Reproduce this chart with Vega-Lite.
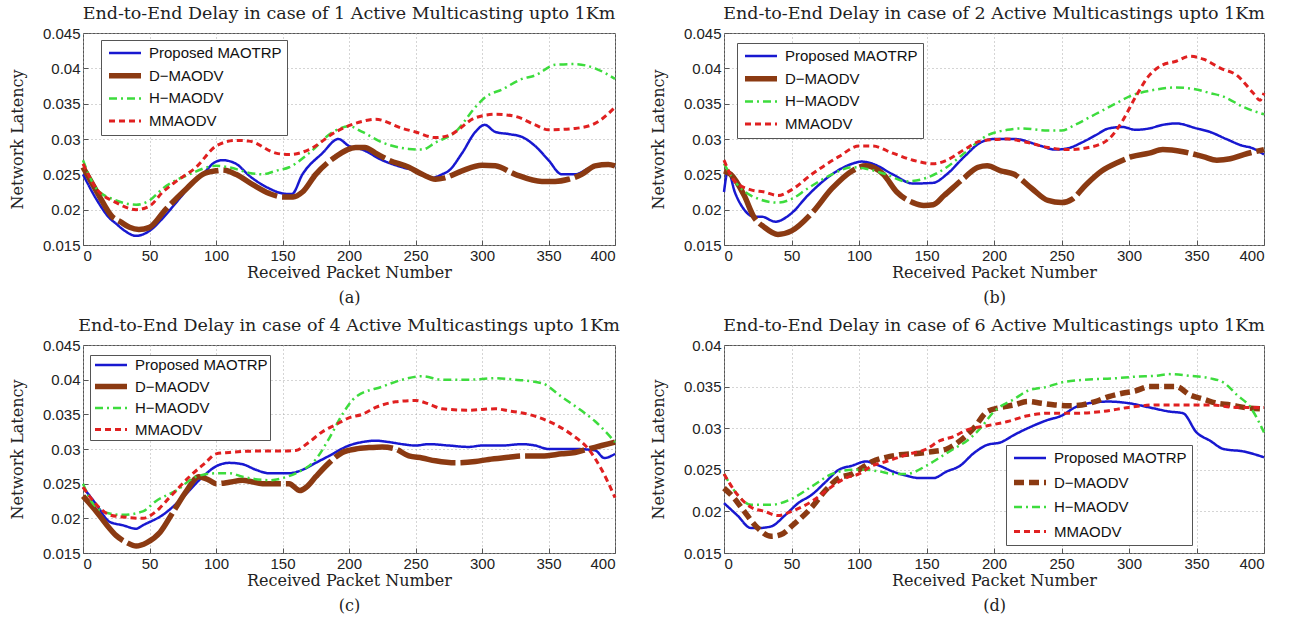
{
  "$schema": "https://vega.github.io/schema/vega-lite/v6.json",
  "padding": {"left": 8, "top": 4, "right": 4, "bottom": 0},
  "background": "white",
  "datasets": {
    "a": [
      {"s":"Proposed MAOTRP","x":0,"y":0.025},{"s":"Proposed MAOTRP","x":10,"y":0.0215},{"s":"Proposed MAOTRP","x":20,"y":0.0188},{"s":"Proposed MAOTRP","x":25,"y":0.018},{"s":"Proposed MAOTRP","x":30,"y":0.0172},{"s":"Proposed MAOTRP","x":40,"y":0.0163},{"s":"Proposed MAOTRP","x":50,"y":0.017},{"s":"Proposed MAOTRP","x":60,"y":0.0188},{"s":"Proposed MAOTRP","x":70,"y":0.021},{"s":"Proposed MAOTRP","x":80,"y":0.0232},{"s":"Proposed MAOTRP","x":90,"y":0.025},{"s":"Proposed MAOTRP","x":100,"y":0.0268},{"s":"Proposed MAOTRP","x":105,"y":0.027},{"s":"Proposed MAOTRP","x":115,"y":0.0265},{"s":"Proposed MAOTRP","x":125,"y":0.0248},{"s":"Proposed MAOTRP","x":140,"y":0.023},{"s":"Proposed MAOTRP","x":150,"y":0.0223},{"s":"Proposed MAOTRP","x":157,"y":0.0222},{"s":"Proposed MAOTRP","x":165,"y":0.025},{"s":"Proposed MAOTRP","x":180,"y":0.028},{"s":"Proposed MAOTRP","x":192,"y":0.03},{"s":"Proposed MAOTRP","x":200,"y":0.029},{"s":"Proposed MAOTRP","x":210,"y":0.0285},{"s":"Proposed MAOTRP","x":225,"y":0.027},{"s":"Proposed MAOTRP","x":240,"y":0.026},{"s":"Proposed MAOTRP","x":250,"y":0.0255},{"s":"Proposed MAOTRP","x":262,"y":0.0245},{"s":"Proposed MAOTRP","x":270,"y":0.025},{"s":"Proposed MAOTRP","x":275,"y":0.0255},{"s":"Proposed MAOTRP","x":285,"y":0.028},{"s":"Proposed MAOTRP","x":295,"y":0.031},{"s":"Proposed MAOTRP","x":302,"y":0.032},{"s":"Proposed MAOTRP","x":310,"y":0.031},{"s":"Proposed MAOTRP","x":320,"y":0.0307},{"s":"Proposed MAOTRP","x":330,"y":0.0303},{"s":"Proposed MAOTRP","x":340,"y":0.029},{"s":"Proposed MAOTRP","x":350,"y":0.027},{"s":"Proposed MAOTRP","x":360,"y":0.025},{"s":"Proposed MAOTRP","x":370,"y":0.025},{"s":"Proposed MAOTRP","x":380,"y":0.0258},{"s":"Proposed MAOTRP","x":390,"y":0.0262},{"s":"Proposed MAOTRP","x":400,"y":0.0262},
      {"s":"D−MAODV","x":0,"y":0.026},{"s":"D−MAODV","x":6,"y":0.024},{"s":"D−MAODV","x":12,"y":0.022},{"s":"D−MAODV","x":22,"y":0.019},{"s":"D−MAODV","x":28,"y":0.0183},{"s":"D−MAODV","x":35,"y":0.0175},{"s":"D−MAODV","x":42,"y":0.0172},{"s":"D−MAODV","x":50,"y":0.0175},{"s":"D−MAODV","x":62,"y":0.02},{"s":"D−MAODV","x":78,"y":0.023},{"s":"D−MAODV","x":90,"y":0.025},{"s":"D−MAODV","x":100,"y":0.0255},{"s":"D−MAODV","x":105,"y":0.0256},{"s":"D−MAODV","x":115,"y":0.025},{"s":"D−MAODV","x":128,"y":0.0235},{"s":"D−MAODV","x":140,"y":0.0223},{"s":"D−MAODV","x":150,"y":0.0218},{"s":"D−MAODV","x":158,"y":0.0218},{"s":"D−MAODV","x":165,"y":0.0225},{"s":"D−MAODV","x":175,"y":0.025},{"s":"D−MAODV","x":190,"y":0.0275},{"s":"D−MAODV","x":205,"y":0.0288},{"s":"D−MAODV","x":212,"y":0.0288},{"s":"D−MAODV","x":220,"y":0.028},{"s":"D−MAODV","x":230,"y":0.027},{"s":"D−MAODV","x":245,"y":0.026},{"s":"D−MAODV","x":255,"y":0.025},{"s":"D−MAODV","x":265,"y":0.0243},{"s":"D−MAODV","x":272,"y":0.0245},{"s":"D−MAODV","x":285,"y":0.0255},{"s":"D−MAODV","x":300,"y":0.0263},{"s":"D−MAODV","x":310,"y":0.0262},{"s":"D−MAODV","x":325,"y":0.025},{"s":"D−MAODV","x":345,"y":0.024},{"s":"D−MAODV","x":355,"y":0.024},{"s":"D−MAODV","x":365,"y":0.0243},{"s":"D−MAODV","x":375,"y":0.025},{"s":"D−MAODV","x":385,"y":0.0262},{"s":"D−MAODV","x":395,"y":0.0264},{"s":"D−MAODV","x":400,"y":0.0262},
      {"s":"H−MAODV","x":0,"y":0.027},{"s":"H−MAODV","x":10,"y":0.023},{"s":"H−MAODV","x":25,"y":0.0213},{"s":"H−MAODV","x":40,"y":0.0207},{"s":"H−MAODV","x":50,"y":0.0213},{"s":"H−MAODV","x":60,"y":0.023},{"s":"H−MAODV","x":80,"y":0.025},{"s":"H−MAODV","x":100,"y":0.0262},{"s":"H−MAODV","x":110,"y":0.026},{"s":"H−MAODV","x":125,"y":0.0252},{"s":"H−MAODV","x":135,"y":0.025},{"s":"H−MAODV","x":145,"y":0.0255},{"s":"H−MAODV","x":155,"y":0.026},{"s":"H−MAODV","x":170,"y":0.028},{"s":"H−MAODV","x":188,"y":0.031},{"s":"H−MAODV","x":200,"y":0.0318},{"s":"H−MAODV","x":210,"y":0.031},{"s":"H−MAODV","x":225,"y":0.0295},{"s":"H−MAODV","x":245,"y":0.0286},{"s":"H−MAODV","x":255,"y":0.0285},{"s":"H−MAODV","x":265,"y":0.0295},{"s":"H−MAODV","x":280,"y":0.031},{"s":"H−MAODV","x":295,"y":0.0345},{"s":"H−MAODV","x":303,"y":0.036},{"s":"H−MAODV","x":315,"y":0.037},{"s":"H−MAODV","x":330,"y":0.0385},{"s":"H−MAODV","x":340,"y":0.039},{"s":"H−MAODV","x":355,"y":0.0405},{"s":"H−MAODV","x":370,"y":0.0406},{"s":"H−MAODV","x":385,"y":0.04},{"s":"H−MAODV","x":400,"y":0.0385},
      {"s":"MMAODV","x":0,"y":0.0265},{"s":"MMAODV","x":10,"y":0.023},{"s":"MMAODV","x":25,"y":0.021},{"s":"MMAODV","x":40,"y":0.02},{"s":"MMAODV","x":50,"y":0.0205},{"s":"MMAODV","x":60,"y":0.0225},{"s":"MMAODV","x":70,"y":0.024},{"s":"MMAODV","x":85,"y":0.026},{"s":"MMAODV","x":100,"y":0.029},{"s":"MMAODV","x":115,"y":0.0298},{"s":"MMAODV","x":125,"y":0.0297},{"s":"MMAODV","x":145,"y":0.028},{"s":"MMAODV","x":155,"y":0.0278},{"s":"MMAODV","x":170,"y":0.0285},{"s":"MMAODV","x":190,"y":0.031},{"s":"MMAODV","x":210,"y":0.0325},{"s":"MMAODV","x":220,"y":0.0328},{"s":"MMAODV","x":240,"y":0.0315},{"s":"MMAODV","x":250,"y":0.031},{"s":"MMAODV","x":265,"y":0.0302},{"s":"MMAODV","x":275,"y":0.0305},{"s":"MMAODV","x":295,"y":0.033},{"s":"MMAODV","x":310,"y":0.0335},{"s":"MMAODV","x":325,"y":0.0332},{"s":"MMAODV","x":340,"y":0.032},{"s":"MMAODV","x":350,"y":0.0313},{"s":"MMAODV","x":370,"y":0.0315},{"s":"MMAODV","x":385,"y":0.0322},{"s":"MMAODV","x":400,"y":0.0345}
    ],
    "b": [
      {"s":"Proposed MAOTRP","x":0,"y":0.0225},{"s":"Proposed MAOTRP","x":3,"y":0.0255},{"s":"Proposed MAOTRP","x":8,"y":0.0225},{"s":"Proposed MAOTRP","x":15,"y":0.02},{"s":"Proposed MAOTRP","x":22,"y":0.019},{"s":"Proposed MAOTRP","x":28,"y":0.019},{"s":"Proposed MAOTRP","x":38,"y":0.0183},{"s":"Proposed MAOTRP","x":50,"y":0.0195},{"s":"Proposed MAOTRP","x":62,"y":0.022},{"s":"Proposed MAOTRP","x":80,"y":0.025},{"s":"Proposed MAOTRP","x":95,"y":0.0265},{"s":"Proposed MAOTRP","x":102,"y":0.0268},{"s":"Proposed MAOTRP","x":110,"y":0.0265},{"s":"Proposed MAOTRP","x":125,"y":0.025},{"s":"Proposed MAOTRP","x":140,"y":0.0237},{"s":"Proposed MAOTRP","x":155,"y":0.0238},{"s":"Proposed MAOTRP","x":165,"y":0.025},{"s":"Proposed MAOTRP","x":178,"y":0.0275},{"s":"Proposed MAOTRP","x":190,"y":0.0295},{"s":"Proposed MAOTRP","x":200,"y":0.03},{"s":"Proposed MAOTRP","x":215,"y":0.03},{"s":"Proposed MAOTRP","x":235,"y":0.029},{"s":"Proposed MAOTRP","x":245,"y":0.0285},{"s":"Proposed MAOTRP","x":255,"y":0.0287},{"s":"Proposed MAOTRP","x":265,"y":0.0295},{"s":"Proposed MAOTRP","x":275,"y":0.0305},{"s":"Proposed MAOTRP","x":285,"y":0.0315},{"s":"Proposed MAOTRP","x":295,"y":0.0317},{"s":"Proposed MAOTRP","x":305,"y":0.0313},{"s":"Proposed MAOTRP","x":315,"y":0.0315},{"s":"Proposed MAOTRP","x":325,"y":0.032},{"s":"Proposed MAOTRP","x":335,"y":0.0322},{"s":"Proposed MAOTRP","x":350,"y":0.0315},{"s":"Proposed MAOTRP","x":360,"y":0.031},{"s":"Proposed MAOTRP","x":372,"y":0.03},{"s":"Proposed MAOTRP","x":385,"y":0.029},{"s":"Proposed MAOTRP","x":390,"y":0.0288},{"s":"Proposed MAOTRP","x":400,"y":0.0278},
      {"s":"D−MAODV","x":0,"y":0.0255},{"s":"D−MAODV","x":5,"y":0.025},{"s":"D−MAODV","x":15,"y":0.022},{"s":"D−MAODV","x":22,"y":0.019},{"s":"D−MAODV","x":30,"y":0.0175},{"s":"D−MAODV","x":40,"y":0.0165},{"s":"D−MAODV","x":50,"y":0.017},{"s":"D−MAODV","x":65,"y":0.0195},{"s":"D−MAODV","x":80,"y":0.023},{"s":"D−MAODV","x":95,"y":0.0255},{"s":"D−MAODV","x":105,"y":0.0262},{"s":"D−MAODV","x":118,"y":0.025},{"s":"D−MAODV","x":128,"y":0.0225},{"s":"D−MAODV","x":140,"y":0.021},{"s":"D−MAODV","x":148,"y":0.0206},{"s":"D−MAODV","x":155,"y":0.0207},{"s":"D−MAODV","x":163,"y":0.022},{"s":"D−MAODV","x":178,"y":0.0245},{"s":"D−MAODV","x":188,"y":0.026},{"s":"D−MAODV","x":195,"y":0.0262},{"s":"D−MAODV","x":205,"y":0.0255},{"s":"D−MAODV","x":215,"y":0.025},{"s":"D−MAODV","x":228,"y":0.023},{"s":"D−MAODV","x":240,"y":0.0213},{"s":"D−MAODV","x":250,"y":0.021},{"s":"D−MAODV","x":258,"y":0.0215},{"s":"D−MAODV","x":268,"y":0.0235},{"s":"D−MAODV","x":280,"y":0.0255},{"s":"D−MAODV","x":292,"y":0.0267},{"s":"D−MAODV","x":302,"y":0.0275},{"s":"D−MAODV","x":315,"y":0.028},{"s":"D−MAODV","x":325,"y":0.0285},{"s":"D−MAODV","x":340,"y":0.0282},{"s":"D−MAODV","x":355,"y":0.0275},{"s":"D−MAODV","x":365,"y":0.027},{"s":"D−MAODV","x":375,"y":0.0272},{"s":"D−MAODV","x":385,"y":0.0278},{"s":"D−MAODV","x":400,"y":0.0285},
      {"s":"H−MAODV","x":0,"y":0.0265},{"s":"H−MAODV","x":8,"y":0.024},{"s":"H−MAODV","x":20,"y":0.022},{"s":"H−MAODV","x":40,"y":0.021},{"s":"H−MAODV","x":50,"y":0.0215},{"s":"H−MAODV","x":62,"y":0.023},{"s":"H−MAODV","x":80,"y":0.025},{"s":"H−MAODV","x":95,"y":0.026},{"s":"H−MAODV","x":105,"y":0.0258},{"s":"H−MAODV","x":120,"y":0.025},{"s":"H−MAODV","x":135,"y":0.024},{"s":"H−MAODV","x":150,"y":0.0245},{"s":"H−MAODV","x":165,"y":0.026},{"s":"H−MAODV","x":178,"y":0.028},{"s":"H−MAODV","x":195,"y":0.0305},{"s":"H−MAODV","x":210,"y":0.0313},{"s":"H−MAODV","x":220,"y":0.0315},{"s":"H−MAODV","x":240,"y":0.0312},{"s":"H−MAODV","x":250,"y":0.0312},{"s":"H−MAODV","x":260,"y":0.032},{"s":"H−MAODV","x":275,"y":0.0335},{"s":"H−MAODV","x":290,"y":0.035},{"s":"H−MAODV","x":300,"y":0.036},{"s":"H−MAODV","x":320,"y":0.037},{"s":"H−MAODV","x":335,"y":0.0373},{"s":"H−MAODV","x":350,"y":0.037},{"s":"H−MAODV","x":360,"y":0.0365},{"s":"H−MAODV","x":370,"y":0.036},{"s":"H−MAODV","x":385,"y":0.0345},{"s":"H−MAODV","x":400,"y":0.0335},
      {"s":"MMAODV","x":0,"y":0.027},{"s":"MMAODV","x":8,"y":0.024},{"s":"MMAODV","x":20,"y":0.0228},{"s":"MMAODV","x":30,"y":0.0225},{"s":"MMAODV","x":40,"y":0.022},{"s":"MMAODV","x":50,"y":0.0228},{"s":"MMAODV","x":65,"y":0.025},{"s":"MMAODV","x":85,"y":0.0275},{"s":"MMAODV","x":100,"y":0.029},{"s":"MMAODV","x":110,"y":0.029},{"s":"MMAODV","x":125,"y":0.028},{"s":"MMAODV","x":140,"y":0.027},{"s":"MMAODV","x":155,"y":0.0265},{"s":"MMAODV","x":165,"y":0.027},{"s":"MMAODV","x":178,"y":0.0285},{"s":"MMAODV","x":190,"y":0.0297},{"s":"MMAODV","x":210,"y":0.03},{"s":"MMAODV","x":225,"y":0.0295},{"s":"MMAODV","x":240,"y":0.0288},{"s":"MMAODV","x":255,"y":0.0285},{"s":"MMAODV","x":270,"y":0.0288},{"s":"MMAODV","x":285,"y":0.03},{"s":"MMAODV","x":295,"y":0.0325},{"s":"MMAODV","x":305,"y":0.036},{"s":"MMAODV","x":315,"y":0.039},{"s":"MMAODV","x":325,"y":0.0405},{"s":"MMAODV","x":335,"y":0.041},{"s":"MMAODV","x":345,"y":0.0417},{"s":"MMAODV","x":355,"y":0.0413},{"s":"MMAODV","x":368,"y":0.04},{"s":"MMAODV","x":380,"y":0.039},{"s":"MMAODV","x":392,"y":0.0365},{"s":"MMAODV","x":397,"y":0.0355},{"s":"MMAODV","x":400,"y":0.0365}
    ],
    "c": [
      {"s":"Proposed MAOTRP","x":0,"y":0.0245},{"s":"Proposed MAOTRP","x":10,"y":0.022},{"s":"Proposed MAOTRP","x":20,"y":0.0195},{"s":"Proposed MAOTRP","x":30,"y":0.019},{"s":"Proposed MAOTRP","x":40,"y":0.0185},{"s":"Proposed MAOTRP","x":45,"y":0.019},{"s":"Proposed MAOTRP","x":60,"y":0.0205},{"s":"Proposed MAOTRP","x":75,"y":0.023},{"s":"Proposed MAOTRP","x":90,"y":0.026},{"s":"Proposed MAOTRP","x":100,"y":0.0275},{"s":"Proposed MAOTRP","x":110,"y":0.028},{"s":"Proposed MAOTRP","x":120,"y":0.0278},{"s":"Proposed MAOTRP","x":130,"y":0.027},{"s":"Proposed MAOTRP","x":140,"y":0.0265},{"s":"Proposed MAOTRP","x":155,"y":0.0265},{"s":"Proposed MAOTRP","x":165,"y":0.027},{"s":"Proposed MAOTRP","x":175,"y":0.028},{"s":"Proposed MAOTRP","x":185,"y":0.029},{"s":"Proposed MAOTRP","x":200,"y":0.0305},{"s":"Proposed MAOTRP","x":210,"y":0.031},{"s":"Proposed MAOTRP","x":220,"y":0.0312},{"s":"Proposed MAOTRP","x":230,"y":0.031},{"s":"Proposed MAOTRP","x":240,"y":0.0307},{"s":"Proposed MAOTRP","x":250,"y":0.0305},{"s":"Proposed MAOTRP","x":260,"y":0.0307},{"s":"Proposed MAOTRP","x":275,"y":0.0305},{"s":"Proposed MAOTRP","x":290,"y":0.0303},{"s":"Proposed MAOTRP","x":300,"y":0.0305},{"s":"Proposed MAOTRP","x":315,"y":0.0305},{"s":"Proposed MAOTRP","x":330,"y":0.0307},{"s":"Proposed MAOTRP","x":340,"y":0.0305},{"s":"Proposed MAOTRP","x":350,"y":0.03},{"s":"Proposed MAOTRP","x":370,"y":0.03},{"s":"Proposed MAOTRP","x":385,"y":0.0298},{"s":"Proposed MAOTRP","x":392,"y":0.0287},{"s":"Proposed MAOTRP","x":400,"y":0.0293},
      {"s":"D−MAODV","x":0,"y":0.0232},{"s":"D−MAODV","x":10,"y":0.021},{"s":"D−MAODV","x":18,"y":0.019},{"s":"D−MAODV","x":25,"y":0.0175},{"s":"D−MAODV","x":33,"y":0.0165},{"s":"D−MAODV","x":40,"y":0.016},{"s":"D−MAODV","x":48,"y":0.0165},{"s":"D−MAODV","x":58,"y":0.018},{"s":"D−MAODV","x":68,"y":0.021},{"s":"D−MAODV","x":78,"y":0.024},{"s":"D−MAODV","x":87,"y":0.026},{"s":"D−MAODV","x":95,"y":0.0255},{"s":"D−MAODV","x":100,"y":0.025},{"s":"D−MAODV","x":110,"y":0.0252},{"s":"D−MAODV","x":120,"y":0.0255},{"s":"D−MAODV","x":135,"y":0.025},{"s":"D−MAODV","x":150,"y":0.025},{"s":"D−MAODV","x":155,"y":0.025},{"s":"D−MAODV","x":163,"y":0.024},{"s":"D−MAODV","x":168,"y":0.0245},{"s":"D−MAODV","x":175,"y":0.026},{"s":"D−MAODV","x":185,"y":0.028},{"s":"D−MAODV","x":195,"y":0.0295},{"s":"D−MAODV","x":205,"y":0.03},{"s":"D−MAODV","x":215,"y":0.0302},{"s":"D−MAODV","x":225,"y":0.0303},{"s":"D−MAODV","x":235,"y":0.03},{"s":"D−MAODV","x":245,"y":0.029},{"s":"D−MAODV","x":255,"y":0.0287},{"s":"D−MAODV","x":265,"y":0.0283},{"s":"D−MAODV","x":280,"y":0.028},{"s":"D−MAODV","x":295,"y":0.0282},{"s":"D−MAODV","x":305,"y":0.0285},{"s":"D−MAODV","x":320,"y":0.0288},{"s":"D−MAODV","x":330,"y":0.029},{"s":"D−MAODV","x":345,"y":0.029},{"s":"D−MAODV","x":360,"y":0.0293},{"s":"D−MAODV","x":370,"y":0.0295},{"s":"D−MAODV","x":380,"y":0.03},{"s":"D−MAODV","x":390,"y":0.0305},{"s":"D−MAODV","x":400,"y":0.031},
      {"s":"H−MAODV","x":0,"y":0.025},{"s":"H−MAODV","x":8,"y":0.022},{"s":"H−MAODV","x":20,"y":0.0207},{"s":"H−MAODV","x":30,"y":0.0205},{"s":"H−MAODV","x":45,"y":0.021},{"s":"H−MAODV","x":55,"y":0.0225},{"s":"H−MAODV","x":70,"y":0.024},{"s":"H−MAODV","x":85,"y":0.026},{"s":"H−MAODV","x":100,"y":0.0265},{"s":"H−MAODV","x":110,"y":0.0265},{"s":"H−MAODV","x":120,"y":0.026},{"s":"H−MAODV","x":140,"y":0.0255},{"s":"H−MAODV","x":150,"y":0.0258},{"s":"H−MAODV","x":160,"y":0.0265},{"s":"H−MAODV","x":175,"y":0.0285},{"s":"H−MAODV","x":185,"y":0.0315},{"s":"H−MAODV","x":195,"y":0.035},{"s":"H−MAODV","x":205,"y":0.0375},{"s":"H−MAODV","x":225,"y":0.039},{"s":"H−MAODV","x":240,"y":0.04},{"s":"H−MAODV","x":255,"y":0.0405},{"s":"H−MAODV","x":270,"y":0.04},{"s":"H−MAODV","x":290,"y":0.04},{"s":"H−MAODV","x":310,"y":0.0402},{"s":"H−MAODV","x":325,"y":0.04},{"s":"H−MAODV","x":345,"y":0.0395},{"s":"H−MAODV","x":360,"y":0.0375},{"s":"H−MAODV","x":375,"y":0.0355},{"s":"H−MAODV","x":385,"y":0.034},{"s":"H−MAODV","x":400,"y":0.031},
      {"s":"MMAODV","x":0,"y":0.0245},{"s":"MMAODV","x":10,"y":0.022},{"s":"MMAODV","x":20,"y":0.0205},{"s":"MMAODV","x":30,"y":0.0202},{"s":"MMAODV","x":45,"y":0.02},{"s":"MMAODV","x":55,"y":0.021},{"s":"MMAODV","x":65,"y":0.023},{"s":"MMAODV","x":80,"y":0.026},{"s":"MMAODV","x":92,"y":0.028},{"s":"MMAODV","x":100,"y":0.0293},{"s":"MMAODV","x":110,"y":0.0295},{"s":"MMAODV","x":130,"y":0.0297},{"s":"MMAODV","x":150,"y":0.0297},{"s":"MMAODV","x":160,"y":0.0298},{"s":"MMAODV","x":170,"y":0.031},{"s":"MMAODV","x":180,"y":0.0325},{"s":"MMAODV","x":190,"y":0.0335},{"s":"MMAODV","x":200,"y":0.0345},{"s":"MMAODV","x":210,"y":0.035},{"s":"MMAODV","x":220,"y":0.036},{"s":"MMAODV","x":235,"y":0.0368},{"s":"MMAODV","x":250,"y":0.037},{"s":"MMAODV","x":260,"y":0.0365},{"s":"MMAODV","x":270,"y":0.0358},{"s":"MMAODV","x":290,"y":0.0356},{"s":"MMAODV","x":310,"y":0.0358},{"s":"MMAODV","x":320,"y":0.0355},{"s":"MMAODV","x":335,"y":0.035},{"s":"MMAODV","x":350,"y":0.034},{"s":"MMAODV","x":368,"y":0.032},{"s":"MMAODV","x":380,"y":0.03},{"s":"MMAODV","x":390,"y":0.027},{"s":"MMAODV","x":400,"y":0.023}
    ],
    "d": [
      {"s":"Proposed MAOTRP","x":0,"y":0.021},{"s":"Proposed MAOTRP","x":10,"y":0.0195},{"s":"Proposed MAOTRP","x":20,"y":0.018},{"s":"Proposed MAOTRP","x":25,"y":0.018},{"s":"Proposed MAOTRP","x":35,"y":0.0182},{"s":"Proposed MAOTRP","x":45,"y":0.0195},{"s":"Proposed MAOTRP","x":55,"y":0.021},{"s":"Proposed MAOTRP","x":65,"y":0.022},{"s":"Proposed MAOTRP","x":75,"y":0.0235},{"s":"Proposed MAOTRP","x":85,"y":0.025},{"s":"Proposed MAOTRP","x":95,"y":0.0255},{"s":"Proposed MAOTRP","x":105,"y":0.026},{"s":"Proposed MAOTRP","x":115,"y":0.0255},{"s":"Proposed MAOTRP","x":125,"y":0.0248},{"s":"Proposed MAOTRP","x":135,"y":0.0243},{"s":"Proposed MAOTRP","x":145,"y":0.024},{"s":"Proposed MAOTRP","x":155,"y":0.024},{"s":"Proposed MAOTRP","x":165,"y":0.0248},{"s":"Proposed MAOTRP","x":175,"y":0.0255},{"s":"Proposed MAOTRP","x":185,"y":0.027},{"s":"Proposed MAOTRP","x":195,"y":0.028},{"s":"Proposed MAOTRP","x":205,"y":0.0283},{"s":"Proposed MAOTRP","x":215,"y":0.0292},{"s":"Proposed MAOTRP","x":225,"y":0.03},{"s":"Proposed MAOTRP","x":240,"y":0.031},{"s":"Proposed MAOTRP","x":250,"y":0.0315},{"s":"Proposed MAOTRP","x":260,"y":0.0325},{"s":"Proposed MAOTRP","x":270,"y":0.033},{"s":"Proposed MAOTRP","x":285,"y":0.0332},{"s":"Proposed MAOTRP","x":300,"y":0.033},{"s":"Proposed MAOTRP","x":315,"y":0.0325},{"s":"Proposed MAOTRP","x":330,"y":0.032},{"s":"Proposed MAOTRP","x":340,"y":0.0318},{"s":"Proposed MAOTRP","x":350,"y":0.0295},{"s":"Proposed MAOTRP","x":360,"y":0.0285},{"s":"Proposed MAOTRP","x":370,"y":0.0275},{"s":"Proposed MAOTRP","x":385,"y":0.0272},{"s":"Proposed MAOTRP","x":400,"y":0.0265},
      {"s":"D−MAODV","x":0,"y":0.0228},{"s":"D−MAODV","x":8,"y":0.0215},{"s":"D−MAODV","x":15,"y":0.02},{"s":"D−MAODV","x":25,"y":0.018},{"s":"D−MAODV","x":35,"y":0.017},{"s":"D−MAODV","x":42,"y":0.0172},{"s":"D−MAODV","x":52,"y":0.0185},{"s":"D−MAODV","x":65,"y":0.0205},{"s":"D−MAODV","x":75,"y":0.0225},{"s":"D−MAODV","x":85,"y":0.024},{"s":"D−MAODV","x":95,"y":0.0245},{"s":"D−MAODV","x":100,"y":0.025},{"s":"D−MAODV","x":110,"y":0.026},{"s":"D−MAODV","x":120,"y":0.0265},{"s":"D−MAODV","x":130,"y":0.0268},{"s":"D−MAODV","x":145,"y":0.027},{"s":"D−MAODV","x":155,"y":0.0272},{"s":"D−MAODV","x":165,"y":0.0275},{"s":"D−MAODV","x":175,"y":0.0285},{"s":"D−MAODV","x":185,"y":0.03},{"s":"D−MAODV","x":195,"y":0.032},{"s":"D−MAODV","x":205,"y":0.0325},{"s":"D−MAODV","x":215,"y":0.0328},{"s":"D−MAODV","x":225,"y":0.0332},{"s":"D−MAODV","x":235,"y":0.033},{"s":"D−MAODV","x":245,"y":0.0328},{"s":"D−MAODV","x":255,"y":0.0327},{"s":"D−MAODV","x":265,"y":0.0328},{"s":"D−MAODV","x":275,"y":0.0332},{"s":"D−MAODV","x":285,"y":0.0338},{"s":"D−MAODV","x":295,"y":0.0342},{"s":"D−MAODV","x":305,"y":0.0345},{"s":"D−MAODV","x":315,"y":0.035},{"s":"D−MAODV","x":325,"y":0.035},{"s":"D−MAODV","x":335,"y":0.035},{"s":"D−MAODV","x":345,"y":0.034},{"s":"D−MAODV","x":355,"y":0.0335},{"s":"D−MAODV","x":365,"y":0.033},{"s":"D−MAODV","x":375,"y":0.0328},{"s":"D−MAODV","x":385,"y":0.0325},{"s":"D−MAODV","x":400,"y":0.0323},
      {"s":"H−MAODV","x":0,"y":0.0245},{"s":"H−MAODV","x":10,"y":0.022},{"s":"H−MAODV","x":20,"y":0.0208},{"s":"H−MAODV","x":35,"y":0.0208},{"s":"H−MAODV","x":50,"y":0.0215},{"s":"H−MAODV","x":65,"y":0.023},{"s":"H−MAODV","x":80,"y":0.0245},{"s":"H−MAODV","x":95,"y":0.025},{"s":"H−MAODV","x":105,"y":0.025},{"s":"H−MAODV","x":115,"y":0.0248},{"s":"H−MAODV","x":125,"y":0.0245},{"s":"H−MAODV","x":135,"y":0.0245},{"s":"H−MAODV","x":150,"y":0.0255},{"s":"H−MAODV","x":160,"y":0.0265},{"s":"H−MAODV","x":170,"y":0.0275},{"s":"H−MAODV","x":180,"y":0.0285},{"s":"H−MAODV","x":190,"y":0.03},{"s":"H−MAODV","x":200,"y":0.032},{"s":"H−MAODV","x":215,"y":0.0335},{"s":"H−MAODV","x":225,"y":0.0345},{"s":"H−MAODV","x":240,"y":0.035},{"s":"H−MAODV","x":250,"y":0.0355},{"s":"H−MAODV","x":265,"y":0.0358},{"s":"H−MAODV","x":290,"y":0.036},{"s":"H−MAODV","x":305,"y":0.0362},{"s":"H−MAODV","x":320,"y":0.0363},{"s":"H−MAODV","x":330,"y":0.0365},{"s":"H−MAODV","x":345,"y":0.0363},{"s":"H−MAODV","x":360,"y":0.036},{"s":"H−MAODV","x":370,"y":0.0355},{"s":"H−MAODV","x":380,"y":0.034},{"s":"H−MAODV","x":390,"y":0.0325},{"s":"H−MAODV","x":400,"y":0.0295},
      {"s":"MMAODV","x":0,"y":0.0245},{"s":"MMAODV","x":10,"y":0.022},{"s":"MMAODV","x":20,"y":0.0205},{"s":"MMAODV","x":30,"y":0.02},{"s":"MMAODV","x":40,"y":0.0195},{"s":"MMAODV","x":50,"y":0.02},{"s":"MMAODV","x":65,"y":0.0212},{"s":"MMAODV","x":80,"y":0.023},{"s":"MMAODV","x":90,"y":0.024},{"s":"MMAODV","x":100,"y":0.0245},{"s":"MMAODV","x":110,"y":0.0255},{"s":"MMAODV","x":120,"y":0.026},{"s":"MMAODV","x":135,"y":0.0268},{"s":"MMAODV","x":150,"y":0.0275},{"s":"MMAODV","x":160,"y":0.0285},{"s":"MMAODV","x":170,"y":0.029},{"s":"MMAODV","x":180,"y":0.0298},{"s":"MMAODV","x":195,"y":0.0303},{"s":"MMAODV","x":210,"y":0.0308},{"s":"MMAODV","x":225,"y":0.0315},{"s":"MMAODV","x":240,"y":0.0318},{"s":"MMAODV","x":260,"y":0.0318},{"s":"MMAODV","x":280,"y":0.032},{"s":"MMAODV","x":300,"y":0.0325},{"s":"MMAODV","x":320,"y":0.0328},{"s":"MMAODV","x":340,"y":0.0328},{"s":"MMAODV","x":360,"y":0.0328},{"s":"MMAODV","x":380,"y":0.0325},{"s":"MMAODV","x":400,"y":0.0325}
    ]
  },
  "vconcat": [
    {
      "hconcat": [
        {
          "title": {"text": "End-to-End Delay in case of 1 Active Multicasting upto 1Km"},
          "width": 532, "height": 212,
          "data": {"name": "a"},
          "mark": {"type": "line", "interpolate": "monotone"},
          "encoding": {
            "x": {"field": "x", "type": "quantitative", "scale": {"domain": [0, 400], "nice": false}, "axis": {"values": [0,50,100,150,200,250,300,350,400], "title": ["Received Packet Number", "(a)"]}},
            "y": {"field": "y", "type": "quantitative", "scale": {"domain": [0.015, 0.045], "nice": false, "zero": false}, "axis": {"values": [0.015,0.02,0.025,0.03,0.035,0.04,0.045], "format": "~g", "title": "Network Latency"}},
            "color": {"field": "s", "type": "nominal", "scale": {"domain": ["Proposed MAOTRP","D−MAODV","H−MAODV","MMAODV"], "range": ["#1818d0","#8b3a12","#3ddc3d","#e02020"]}, "legend": {"title": null, "orient": "none", "legendX": 18, "legendY": 7}},
            "strokeDash": {"field": "s", "type": "nominal", "scale": {"domain": ["Proposed MAOTRP","D−MAODV","H−MAODV","MMAODV"], "range": [[1,0],[60,5],[8,4,2,4],[6,4]]}, "legend": {"title": null, "orient": "none", "legendX": 18, "legendY": 7}},
            "strokeWidth": {"field": "s", "type": "nominal", "scale": {"type": "ordinal", "domain": ["Proposed MAOTRP","D−MAODV","H−MAODV","MMAODV"], "range": [2.5,5.5,2.5,3]}, "legend": null}
          }
        },
        {
          "title": {"text": "End-to-End Delay in case of 2 Active Multicastings upto 1Km"},
          "width": 540, "height": 212,
          "data": {"name": "b"},
          "mark": {"type": "line", "interpolate": "monotone"},
          "encoding": {
            "x": {"field": "x", "type": "quantitative", "scale": {"domain": [0, 400], "nice": false}, "axis": {"values": [0,50,100,150,200,250,300,350,400], "title": ["Received Packet Number", "(b)"]}},
            "y": {"field": "y", "type": "quantitative", "scale": {"domain": [0.015, 0.045], "nice": false, "zero": false}, "axis": {"values": [0.015,0.02,0.025,0.03,0.035,0.04,0.045], "format": "~g", "title": "Network Latency"}},
            "color": {"field": "s", "type": "nominal", "scale": {"domain": ["Proposed MAOTRP","D−MAODV","H−MAODV","MMAODV"], "range": ["#1818d0","#8b3a12","#3ddc3d","#e02020"]}, "legend": {"title": null, "orient": "none", "legendX": 13, "legendY": 10}},
            "strokeDash": {"field": "s", "type": "nominal", "scale": {"domain": ["Proposed MAOTRP","D−MAODV","H−MAODV","MMAODV"], "range": [[1,0],[60,5],[8,4,2,4],[6,4]]}, "legend": {"title": null, "orient": "none", "legendX": 13, "legendY": 10}},
            "strokeWidth": {"field": "s", "type": "nominal", "scale": {"type": "ordinal", "domain": ["Proposed MAOTRP","D−MAODV","H−MAODV","MMAODV"], "range": [2.5,5.5,2.5,3]}, "legend": null}
          }
        }
      ],
      "spacing": 22,
      "resolve": {"scale": {"color": "independent", "strokeDash": "independent", "strokeWidth": "independent"}, "legend": {"color": "independent", "strokeDash": "independent"}}
    },
    {
      "hconcat": [
        {
          "title": {"text": "End-to-End Delay in case of 4 Active Multicastings upto 1Km"},
          "width": 532, "height": 208,
          "data": {"name": "c"},
          "mark": {"type": "line", "interpolate": "monotone"},
          "encoding": {
            "x": {"field": "x", "type": "quantitative", "scale": {"domain": [0, 400], "nice": false}, "axis": {"values": [0,50,100,150,200,250,300,350,400], "title": ["Received Packet Number", "(c)"]}},
            "y": {"field": "y", "type": "quantitative", "scale": {"domain": [0.015, 0.045], "nice": false, "zero": false}, "axis": {"values": [0.015,0.02,0.025,0.03,0.035,0.04,0.045], "format": "~g", "title": "Network Latency"}},
            "color": {"field": "s", "type": "nominal", "scale": {"domain": ["Proposed MAOTRP","D−MAODV","H−MAODV","MMAODV"], "range": ["#1818d0","#8b3a12","#3ddc3d","#e02020"]}, "legend": {"title": null, "orient": "none", "legendX": 7, "legendY": 10, "padding": 2, "rowPadding": 5.5}},
            "strokeDash": {"field": "s", "type": "nominal", "scale": {"domain": ["Proposed MAOTRP","D−MAODV","H−MAODV","MMAODV"], "range": [[1,0],[60,5],[8,4,2,4],[6,4]]}, "legend": {"title": null, "orient": "none", "legendX": 7, "legendY": 10, "padding": 2, "rowPadding": 5.5}},
            "strokeWidth": {"field": "s", "type": "nominal", "scale": {"type": "ordinal", "domain": ["Proposed MAOTRP","D−MAODV","H−MAODV","MMAODV"], "range": [2.5,5.5,2.5,3]}, "legend": null}
          }
        },
        {
          "title": {"text": "End-to-End Delay in case of 6 Active Multicastings upto 1Km"},
          "width": 540, "height": 208,
          "data": {"name": "d"},
          "mark": {"type": "line", "interpolate": "monotone"},
          "encoding": {
            "x": {"field": "x", "type": "quantitative", "scale": {"domain": [0, 400], "nice": false}, "axis": {"values": [0,50,100,150,200,250,300,350,400], "title": ["Received Packet Number", "(d)"]}},
            "y": {"field": "y", "type": "quantitative", "scale": {"domain": [0.015, 0.04], "nice": false, "zero": false}, "axis": {"values": [0.015,0.02,0.025,0.03,0.035,0.04], "format": "~g", "title": "Network Latency"}},
            "color": {"field": "s", "type": "nominal", "scale": {"domain": ["Proposed MAOTRP","D−MAODV","H−MAODV","MMAODV"], "range": ["#1818d0","#8b3a12","#3ddc3d","#e02020"]}, "legend": {"title": null, "orient": "none", "legendX": 282, "legendY": 100, "rowPadding": 8.5}},
            "strokeDash": {"field": "s", "type": "nominal", "scale": {"domain": ["Proposed MAOTRP","D−MAODV","H−MAODV","MMAODV"], "range": [[1,0],[10,5],[8,4,2,4],[6,4]]}, "legend": {"title": null, "orient": "none", "legendX": 282, "legendY": 100, "rowPadding": 8.5}},
            "strokeWidth": {"field": "s", "type": "nominal", "scale": {"type": "ordinal", "domain": ["Proposed MAOTRP","D−MAODV","H−MAODV","MMAODV"], "range": [2.5,5.5,2.5,3]}, "legend": null}
          }
        }
      ],
      "spacing": 22,
      "resolve": {"scale": {"color": "independent", "strokeDash": "independent", "strokeWidth": "independent"}, "legend": {"color": "independent", "strokeDash": "independent"}}
    }
  ],
  "spacing": 10,
  "resolve": {"scale": {"color": "independent", "strokeDash": "independent", "strokeWidth": "independent"}, "legend": {"color": "independent", "strokeDash": "independent"}},
  "config": {
    "view": {"stroke": "#555", "strokeWidth": 1},
    "title": {"font": "DejaVu Serif", "fontSize": 17.5, "fontWeight": "normal", "color": "#222", "offset": 4, "anchor": "middle"},
    "axis": {"grid": true, "gridDash": [1, 3], "gridColor": "#aaa", "domain": false, "tickColor": "#555", "tickSize": -5, "labelPadding": 8, "labelFont": "Liberation Sans", "labelFontSize": 15, "labelColor": "#222", "titleFont": "DejaVu Serif", "titleFontWeight": "normal", "titleFontSize": 16, "titleColor": "#222"},
    "axisX": {"titlePadding": 1, "titleLineHeight": 25},
    "axisY": {"titlePadding": 17, "titleFontSize": 16},
    "legend": {"strokeColor": "#555", "fillColor": "white", "padding": 5, "labelFont": "Liberation Sans", "labelFontSize": 15, "labelColor": "#111", "symbolType": "stroke", "symbolSize": 1024, "symbolStrokeWidth": 2.5, "clipHeight": 16, "rowPadding": 6.7, "labelOffset": 5}
  }
}
